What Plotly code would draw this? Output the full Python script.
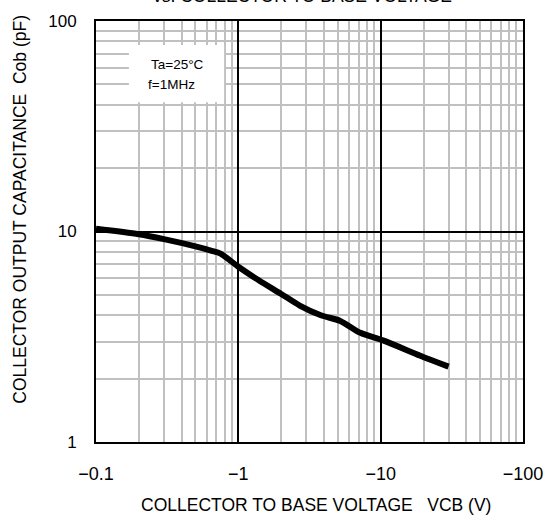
import plotly.graph_objects as go

# Data
vcb_abs = [0.1, 0.2, 0.3, 0.5, 0.65, 0.75, 1.0, 1.4, 2.0, 2.7, 3.8, 5.2, 7.2, 10.5, 19, 30]
cob_pf = [10.3, 9.7, 9.2, 8.5, 8.1, 7.85, 6.8, 5.85, 5.05, 4.45, 4.0, 3.76, 3.3, 3.03, 2.57, 2.28]

x_tickvals = [0.1, 1, 10, 100]
x_ticktext = ["\u22120.1", "\u22121", "\u221210", "\u2212100"]
y_tickvals = [1, 10, 100]
y_ticktext = ["1", "10", "100"]

minor_x = [m * d for d in (0.1, 1, 10) for m in range(2, 10)]
minor_y = [m * d for d in (1, 10) for m in range(2, 10)]

FONT = "Liberation Sans, Arial, sans-serif"

fig = go.Figure()
fig.add_trace(go.Scatter(
    x=vcb_abs, y=cob_pf, mode="lines",
    line=dict(color="black", width=6, shape="spline", smoothing=0.8),
    showlegend=False, hoverinfo="skip",
))

fig.update_layout(
    width=556, height=522,
    margin=dict(l=96, r=33, t=18, b=80),
    paper_bgcolor="white", plot_bgcolor="white",
    font=dict(family=FONT, size=17, color="black"),
    xaxis=dict(
        type="log", range=[-1, 2],
        tickvals=x_tickvals, ticktext=x_ticktext,
        showgrid=True, gridcolor="black", gridwidth=1.5,
        ticks="", ticklabelstandoff=14,
        showline=True, linecolor="black", linewidth=2, mirror=True,
        zeroline=False,
        minor=dict(tickvals=minor_x, showgrid=True, gridcolor="#c0c0c0", gridwidth=2, ticks=""),
        tickfont=dict(size=18),
    ),
    yaxis=dict(
        type="log", range=[0, 2],
        tickvals=y_tickvals, ticktext=y_ticktext,
        showgrid=True, gridcolor="black", gridwidth=1.5,
        ticks="", ticklabelstandoff=14,
        showline=True, linecolor="black", linewidth=2, mirror=True,
        zeroline=False,
        minor=dict(tickvals=minor_y, showgrid=True, gridcolor="#c0c0c0", gridwidth=2, ticks=""),
        tickfont=dict(size=17),
    ),
    shapes=[dict(type="rect", xref="paper", yref="paper",
                 x0=0.077, x1=0.300, y0=0.807, y1=0.943,
                 fillcolor="white", line=dict(width=0), layer="above")],
    annotations=[
        dict(text="Ta=25\u00b0C", xref="paper", yref="paper", x=0.124, y=0.896,
             xanchor="left", yanchor="middle", showarrow=False, font=dict(size=13.5)),
        dict(text="f=1MHz", xref="paper", yref="paper", x=0.117, y=0.849,
             xanchor="left", yanchor="middle", showarrow=False, font=dict(size=13.5)),
        dict(text="COLLECTOR TO BASE VOLTAGE   VCB (V)", xref="paper", yref="paper",
             x=(316 - 96) / 427, y=-(505 - 442) / 424, xanchor="center", yanchor="middle",
             showarrow=False, font=dict(size=17.5)),
        dict(text="COLLECTOR OUTPUT CAPACITANCE  Cob (pF)", xref="paper", yref="paper",
             x=-(96 - 20) / 427, y=(442 - 208) / 424, xanchor="center", yanchor="middle",
             textangle=-90, showarrow=False, font=dict(size=17.5)),
        dict(text="vs. COLLECTOR TO BASE VOLTAGE", xref="paper", yref="paper",
             x=(302 - 96) / 427, y=1 + (18 - 5) / 424, xanchor="center", yanchor="bottom",
             showarrow=False, font=dict(size=17.5)),
    ],
)

fig.write_html("out.html")
